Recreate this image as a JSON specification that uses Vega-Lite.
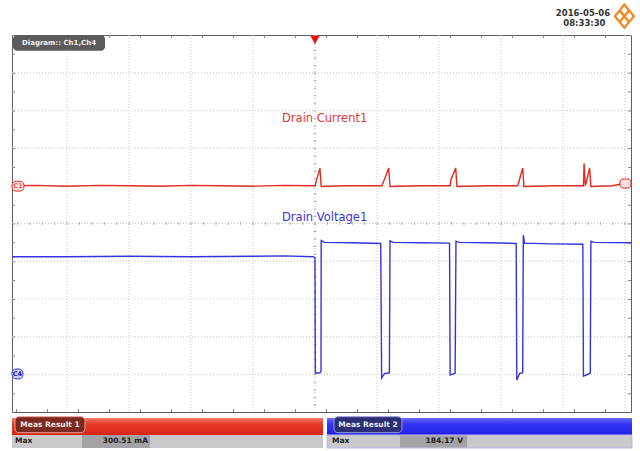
{
  "$schema": "https://vega.github.io/schema/vega-lite/v6.json",
  "width": 619,
  "height": 377,
  "autosize": "none",
  "padding": {"left": 12, "top": 35, "right": 9, "bottom": 39},
  "background": "white",
  "config": {
    "view": {"stroke": "#5e5e5e", "strokeWidth": 1},
    "text": {"font": "DejaVu Sans"}
  },
  "layer": [
    {
      "data": {"values": [{"g": -4}, {"g": -3}, {"g": -2}, {"g": -1}, {"g": 0}, {"g": 1}, {"g": 2}, {"g": 3}, {"g": 4}, {"g": 5}]},
      "mark": {"type": "rule", "color": "#c6c6c6", "strokeWidth": 1, "strokeDash": [1, 2]},
      "encoding": {
        "x": {"field": "g", "type": "quantitative", "scale": {"domain": [-4.887, 5.097], "nice": false, "zero": false}, "axis": null}
      }
    },
    {
      "data": {"values": [{"g": -4}, {"g": -3}, {"g": -2}, {"g": -1}, {"g": 0}, {"g": 1}, {"g": 2}, {"g": 3}, {"g": 4}]},
      "mark": {"type": "rule", "color": "#c6c6c6", "strokeWidth": 1, "strokeDash": [1, 2]},
      "encoding": {
        "y": {"field": "g", "type": "quantitative", "scale": {"domain": [-5, 5], "nice": false, "zero": false}, "axis": null}
      }
    },
    {
      "data": {"values": [{}]},
      "mark": {"type": "rule", "color": "#b0b0b0", "strokeWidth": 3, "strokeDash": [1, 11.4], "strokeDashOffset": 7},
      "encoding": {
        "y": {"datum": 0, "type": "quantitative", "scale": {"domain": [-5, 5], "nice": false, "zero": false}, "axis": null}
      }
    },
    {
      "data": {"values": [{}]},
      "mark": {"type": "rule", "color": "#b0b0b0", "strokeWidth": 3, "strokeDash": [1, 6.54], "strokeDashOffset": 0},
      "encoding": {
        "x": {"datum": 0, "type": "quantitative", "scale": {"domain": [-4.887, 5.097], "nice": false, "zero": false}, "axis": null}
      }
    },
    {
      "data": {"values": [{"e": -4.96}, {"e": 4.96}]},
      "mark": {"type": "rule", "color": "#8a8a8a", "strokeWidth": 3, "strokeDash": [1, 30], "strokeDashOffset": 6},
      "encoding": {
        "y": {"field": "e", "type": "quantitative", "scale": {"domain": [-5, 5], "nice": false, "zero": false}, "axis": null}
      }
    },
    {
      "data": {"values": [{"e": -4.863}, {"e": 5.073}]},
      "mark": {"type": "rule", "color": "#8a8a8a", "strokeWidth": 3, "strokeDash": [1, 17.85], "strokeDashOffset": 0},
      "encoding": {
        "x": {"field": "e", "type": "quantitative", "scale": {"domain": [-4.887, 5.097], "nice": false, "zero": false}, "axis": null}
      }
    },
    {
      "data": {"values": [
        {"ch": "I", "i": 0, "t": -4.88, "v": 1.0},
        {"ch": "I", "i": 1, "t": -4.5, "v": 1.01},
        {"ch": "I", "i": 2, "t": -4.0, "v": 0.99},
        {"ch": "I", "i": 3, "t": -3.5, "v": 1.01},
        {"ch": "I", "i": 4, "t": -3.0, "v": 1.0},
        {"ch": "I", "i": 5, "t": -2.5, "v": 0.99},
        {"ch": "I", "i": 6, "t": -2.0, "v": 1.01},
        {"ch": "I", "i": 7, "t": -1.5, "v": 1.0},
        {"ch": "I", "i": 8, "t": -1.0, "v": 0.99},
        {"ch": "I", "i": 9, "t": -0.5, "v": 1.01},
        {"ch": "I", "i": 10, "t": 0.0, "v": 1.0},
        {"ch": "I", "i": 11, "t": 0.08, "v": 1.47},
        {"ch": "I", "i": 12, "t": 0.1, "v": 0.98},
        {"ch": "I", "i": 13, "t": 0.5, "v": 1.0},
        {"ch": "I", "i": 14, "t": 1.08, "v": 1.0},
        {"ch": "I", "i": 15, "t": 1.19, "v": 1.47},
        {"ch": "I", "i": 16, "t": 1.21, "v": 0.98},
        {"ch": "I", "i": 17, "t": 1.7, "v": 1.0},
        {"ch": "I", "i": 18, "t": 2.18, "v": 1.0},
        {"ch": "I", "i": 19, "t": 2.19, "v": 1.15},
        {"ch": "I", "i": 20, "t": 2.27, "v": 1.47},
        {"ch": "I", "i": 21, "t": 2.29, "v": 0.98},
        {"ch": "I", "i": 22, "t": 2.8, "v": 1.0},
        {"ch": "I", "i": 23, "t": 3.27, "v": 1.0},
        {"ch": "I", "i": 24, "t": 3.35, "v": 1.47},
        {"ch": "I", "i": 25, "t": 3.37, "v": 0.98},
        {"ch": "I", "i": 26, "t": 3.9, "v": 1.0},
        {"ch": "I", "i": 27, "t": 4.33, "v": 1.0},
        {"ch": "I", "i": 28, "t": 4.34, "v": 1.6},
        {"ch": "I", "i": 29, "t": 4.36, "v": 1.03},
        {"ch": "I", "i": 30, "t": 4.37, "v": 1.05},
        {"ch": "I", "i": 31, "t": 4.43, "v": 1.47},
        {"ch": "I", "i": 32, "t": 4.45, "v": 0.98},
        {"ch": "I", "i": 33, "t": 4.8, "v": 1.0},
        {"ch": "I", "i": 34, "t": 4.92, "v": 1.04},
        {"ch": "V", "i": 0, "t": -4.88, "v": -0.88},
        {"ch": "V", "i": 1, "t": -4.0, "v": -0.88},
        {"ch": "V", "i": 2, "t": -3.0, "v": -0.87},
        {"ch": "V", "i": 3, "t": -2.0, "v": -0.88},
        {"ch": "V", "i": 4, "t": -1.0, "v": -0.87},
        {"ch": "V", "i": 5, "t": -0.5, "v": -0.86},
        {"ch": "V", "i": 6, "t": -0.03, "v": -0.88},
        {"ch": "V", "i": 7, "t": 0.0, "v": -0.9},
        {"ch": "V", "i": 8, "t": 0.005, "v": -3.97},
        {"ch": "V", "i": 9, "t": 0.08, "v": -3.96},
        {"ch": "V", "i": 10, "t": 0.097, "v": -3.92},
        {"ch": "V", "i": 11, "t": 0.1, "v": -0.45},
        {"ch": "V", "i": 12, "t": 0.15, "v": -0.5},
        {"ch": "V", "i": 13, "t": 0.6, "v": -0.51},
        {"ch": "V", "i": 14, "t": 1.06, "v": -0.53},
        {"ch": "V", "i": 15, "t": 1.075, "v": -4.1},
        {"ch": "V", "i": 16, "t": 1.12, "v": -3.98},
        {"ch": "V", "i": 17, "t": 1.2, "v": -3.96},
        {"ch": "V", "i": 18, "t": 1.21, "v": -0.46},
        {"ch": "V", "i": 19, "t": 1.26, "v": -0.5},
        {"ch": "V", "i": 20, "t": 1.7, "v": -0.51},
        {"ch": "V", "i": 21, "t": 2.17, "v": -0.52},
        {"ch": "V", "i": 22, "t": 2.18, "v": -4.02},
        {"ch": "V", "i": 23, "t": 2.26, "v": -3.97},
        {"ch": "V", "i": 24, "t": 2.274, "v": -0.47},
        {"ch": "V", "i": 25, "t": 2.32, "v": -0.5},
        {"ch": "V", "i": 26, "t": 2.8, "v": -0.51},
        {"ch": "V", "i": 27, "t": 3.245, "v": -0.53},
        {"ch": "V", "i": 28, "t": 3.255, "v": -4.15},
        {"ch": "V", "i": 29, "t": 3.3, "v": -3.98},
        {"ch": "V", "i": 30, "t": 3.35, "v": -3.96},
        {"ch": "V", "i": 31, "t": 3.36, "v": -0.31},
        {"ch": "V", "i": 32, "t": 3.38, "v": -0.52},
        {"ch": "V", "i": 33, "t": 3.8, "v": -0.54},
        {"ch": "V", "i": 34, "t": 4.32, "v": -0.55},
        {"ch": "V", "i": 35, "t": 4.33, "v": -4.05},
        {"ch": "V", "i": 36, "t": 4.44, "v": -3.97},
        {"ch": "V", "i": 37, "t": 4.45, "v": -0.47},
        {"ch": "V", "i": 38, "t": 4.5, "v": -0.5},
        {"ch": "V", "i": 39, "t": 5.097, "v": -0.51}
      ]},
      "mark": {"type": "line", "strokeWidth": 1.4, "interpolate": "linear"},
      "encoding": {
        "x": {"field": "t", "type": "quantitative", "scale": {"domain": [-4.887, 5.097], "nice": false, "zero": false}, "axis": null},
        "y": {"field": "v", "type": "quantitative", "scale": {"domain": [-5, 5], "nice": false, "zero": false}, "axis": null},
        "color": {"field": "ch", "type": "nominal", "scale": {"domain": ["I", "V"], "range": ["#e02a22", "#3434dc"]}, "legend": null},
        "order": {"field": "i", "type": "quantitative"}
      }
    },
    {
      "data": {"values": [{}]},
      "mark": {"type": "text", "text": "Drain Current1", "fontSize": 11.5, "color": "#e03a32", "align": "left", "baseline": "middle"},
      "encoding": {
        "x": {"datum": -0.532, "type": "quantitative", "scale": {"domain": [-4.887, 5.097], "nice": false, "zero": false}, "axis": null},
        "y": {"datum": 2.764, "type": "quantitative", "scale": {"domain": [-5, 5], "nice": false, "zero": false}, "axis": null}
      }
    },
    {
      "data": {"values": [{}]},
      "mark": {"type": "text", "text": "Drain Voltage1", "fontSize": 11.5, "color": "#3636d8", "align": "left", "baseline": "middle"},
      "encoding": {
        "x": {"datum": -0.532, "type": "quantitative", "scale": {"domain": [-4.887, 5.097], "nice": false, "zero": false}, "axis": null},
        "y": {"datum": 0.159, "type": "quantitative", "scale": {"domain": [-5, 5], "nice": false, "zero": false}, "axis": null}
      }
    },
    {
      "data": {"values": [{}]},
      "mark": {"type": "point", "shape": "triangle-down", "size": 90, "filled": true, "color": "#ee1111", "opacity": 1},
      "encoding": {
        "x": {"datum": 0, "type": "quantitative", "scale": {"domain": [-4.887, 5.097], "nice": false, "zero": false}, "axis": null},
        "y": {"datum": 4.87, "type": "quantitative", "scale": {"domain": [-5, 5], "nice": false, "zero": false}, "axis": null}
      }
    },
    {
      "data": {"values": [{}]},
      "mark": {"type": "rect", "fill": "#5b5b5b", "cornerRadius": 4},
      "encoding": {
        "x": {"datum": -4.871, "type": "quantitative", "scale": {"domain": [-4.887, 5.097], "nice": false, "zero": false}, "axis": null},
        "x2": {"datum": -3.387},
        "y": {"datum": 5.0, "type": "quantitative", "scale": {"domain": [-5, 5], "nice": false, "zero": false}, "axis": null},
        "y2": {"datum": 4.58}
      }
    },
    {
      "data": {"values": [{}]},
      "mark": {"type": "text", "text": "Diagram:: Ch1,Ch4", "fontSize": 7, "fontWeight": "bold", "color": "#f2f2f2", "align": "center", "baseline": "middle"},
      "encoding": {
        "x": {"datum": -4.129, "type": "quantitative", "scale": {"domain": [-4.887, 5.097], "nice": false, "zero": false}, "axis": null},
        "y": {"datum": 4.79, "type": "quantitative", "scale": {"domain": [-5, 5], "nice": false, "zero": false}, "axis": null}
      }
    },
    {
      "data": {"values": [{}]},
      "mark": {"type": "rect", "fill": "#fbe0dc", "stroke": "#e02a22", "strokeWidth": 1, "cornerRadius": 4},
      "encoding": {
        "x": {"datum": -4.887, "type": "quantitative", "scale": {"domain": [-4.887, 5.097], "nice": false, "zero": false}, "axis": null},
        "x2": {"datum": -4.694},
        "y": {"datum": 1.12, "type": "quantitative", "scale": {"domain": [-5, 5], "nice": false, "zero": false}, "axis": null},
        "y2": {"datum": 0.86}
      }
    },
    {
      "data": {"values": [{}]},
      "mark": {"type": "text", "text": "C1", "fontSize": 6.5, "fontWeight": "bold", "color": "#e0605a", "align": "center", "baseline": "middle"},
      "encoding": {
        "x": {"datum": -4.79, "type": "quantitative", "scale": {"domain": [-4.887, 5.097], "nice": false, "zero": false}, "axis": null},
        "y": {"datum": 0.99, "type": "quantitative", "scale": {"domain": [-5, 5], "nice": false, "zero": false}, "axis": null}
      }
    },
    {
      "data": {"values": [{}]},
      "mark": {"type": "rect", "fill": "#cfcff5", "stroke": "#3434dc", "strokeWidth": 1, "cornerRadius": 4},
      "encoding": {
        "x": {"datum": -4.887, "type": "quantitative", "scale": {"domain": [-4.887, 5.097], "nice": false, "zero": false}, "axis": null},
        "x2": {"datum": -4.71},
        "y": {"datum": -3.86, "type": "quantitative", "scale": {"domain": [-5, 5], "nice": false, "zero": false}, "axis": null},
        "y2": {"datum": -4.12}
      }
    },
    {
      "data": {"values": [{}]},
      "mark": {"type": "text", "text": "C4", "fontSize": 6.5, "fontWeight": "bold", "color": "#22228a", "align": "center", "baseline": "middle"},
      "encoding": {
        "x": {"datum": -4.8, "type": "quantitative", "scale": {"domain": [-4.887, 5.097], "nice": false, "zero": false}, "axis": null},
        "y": {"datum": -3.99, "type": "quantitative", "scale": {"domain": [-5, 5], "nice": false, "zero": false}, "axis": null}
      }
    },
    {
      "data": {"values": [{}]},
      "mark": {"type": "rect", "fill": "#fbe0dc", "stroke": "#e02a22", "strokeWidth": 1, "cornerRadius": 3},
      "encoding": {
        "x": {"datum": 4.92, "type": "quantitative", "scale": {"domain": [-4.887, 5.097], "nice": false, "zero": false}, "axis": null},
        "x2": {"datum": 5.097},
        "y": {"datum": 1.18, "type": "quantitative", "scale": {"domain": [-5, 5], "nice": false, "zero": false}, "axis": null},
        "y2": {"datum": 0.94}
      }
    },
    {
      "data": {"values": [{}]},
      "mark": {"type": "text", "text": "2016-05-06", "fontSize": 8.5, "fontWeight": "bold", "color": "#333333", "align": "center", "baseline": "middle"},
      "encoding": {
        "x": {"datum": 4.323, "type": "quantitative", "scale": {"domain": [-4.887, 5.097], "nice": false, "zero": false}, "axis": null},
        "y": {"datum": 5.576, "type": "quantitative", "scale": {"domain": [-5, 5], "nice": false, "zero": false}, "axis": null}
      }
    },
    {
      "data": {"values": [{}]},
      "mark": {"type": "text", "text": "08:33:30", "fontSize": 8.5, "fontWeight": "bold", "color": "#333333", "align": "center", "baseline": "middle"},
      "encoding": {
        "x": {"datum": 4.345, "type": "quantitative", "scale": {"domain": [-4.887, 5.097], "nice": false, "zero": false}, "axis": null},
        "y": {"datum": 5.326, "type": "quantitative", "scale": {"domain": [-5, 5], "nice": false, "zero": false}, "axis": null}
      }
    },
    {
      "data": {"values": [{}]},
      "mark": {"type": "point", "shape": "M0,-1.1L0.9,0L0,1.1L-0.9,0Z M-0.45,-0.55L0.45,0.55 M0.45,-0.55L-0.45,0.55", "size": 440, "filled": false, "stroke": "#f08a2a", "strokeWidth": 2.4, "fill": "white", "opacity": 1},
      "encoding": {
        "x": {"datum": 4.99, "type": "quantitative", "scale": {"domain": [-4.887, 5.097], "nice": false, "zero": false}, "axis": null},
        "y": {"datum": 5.5, "type": "quantitative", "scale": {"domain": [-5, 5], "nice": false, "zero": false}, "axis": null}
      }
    },
    {
      "data": {"values": [{}]},
      "mark": {"type": "rect", "fill": {"gradient": "linear", "x1": 0, "y1": 0, "x2": 0, "y2": 1, "stops": [{"offset": 0, "color": "#f47a68"}, {"offset": 0.35, "color": "#e83a2a"}, {"offset": 1, "color": "#d8241a"}]}},
      "encoding": {
        "x": {"datum": -4.887, "type": "quantitative", "scale": {"domain": [-4.887, 5.097], "nice": false, "zero": false}, "axis": null},
        "x2": {"datum": 0.129},
        "y": {"datum": -5.159, "type": "quantitative", "scale": {"domain": [-5, 5], "nice": false, "zero": false}, "axis": null},
        "y2": {"datum": -5.61}
      }
    },
    {
      "data": {"values": [{}]},
      "mark": {"type": "rect", "fill": "#7b2a22", "stroke": "#eaa090", "strokeWidth": 1, "cornerRadius": 4},
      "encoding": {
        "x": {"datum": -4.839, "type": "quantitative", "scale": {"domain": [-4.887, 5.097], "nice": false, "zero": false}, "axis": null},
        "x2": {"datum": -3.71},
        "y": {"datum": -5.125, "type": "quantitative", "scale": {"domain": [-5, 5], "nice": false, "zero": false}, "axis": null},
        "y2": {"datum": -5.549}
      }
    },
    {
      "data": {"values": [{}]},
      "mark": {"type": "text", "text": "Meas Result 1", "fontSize": 7.5, "fontWeight": "bold", "color": "#f5e6e2", "align": "center", "baseline": "middle"},
      "encoding": {
        "x": {"datum": -4.274, "type": "quantitative", "scale": {"domain": [-4.887, 5.097], "nice": false, "zero": false}, "axis": null},
        "y": {"datum": -5.345, "type": "quantitative", "scale": {"domain": [-5, 5], "nice": false, "zero": false}, "axis": null}
      }
    },
    {
      "data": {"values": [{}]},
      "mark": {"type": "rect", "fill": "#c9c9cb"},
      "encoding": {
        "x": {"datum": -4.887, "type": "quantitative", "scale": {"domain": [-4.887, 5.097], "nice": false, "zero": false}, "axis": null},
        "x2": {"datum": 0.129},
        "y": {"datum": -5.61, "type": "quantitative", "scale": {"domain": [-5, 5], "nice": false, "zero": false}, "axis": null},
        "y2": {"datum": -5.955}
      }
    },
    {
      "data": {"values": [{}]},
      "mark": {"type": "rect", "fill": "#a3a3a5"},
      "encoding": {
        "x": {"datum": -3.758, "type": "quantitative", "scale": {"domain": [-4.887, 5.097], "nice": false, "zero": false}, "axis": null},
        "x2": {"datum": -2.661},
        "y": {"datum": -5.61, "type": "quantitative", "scale": {"domain": [-5, 5], "nice": false, "zero": false}, "axis": null},
        "y2": {"datum": -5.955}
      }
    },
    {
      "data": {"values": [{}]},
      "mark": {"type": "text", "text": "Max", "fontSize": 7.5, "fontWeight": "bold", "color": "#222222", "align": "left", "baseline": "middle"},
      "encoding": {
        "x": {"datum": -4.839, "type": "quantitative", "scale": {"domain": [-4.887, 5.097], "nice": false, "zero": false}, "axis": null},
        "y": {"datum": -5.782, "type": "quantitative", "scale": {"domain": [-5, 5], "nice": false, "zero": false}, "axis": null}
      }
    },
    {
      "data": {"values": [{}]},
      "mark": {"type": "text", "text": "300.51 mA", "fontSize": 7.5, "fontWeight": "bold", "color": "#222222", "align": "right", "baseline": "middle"},
      "encoding": {
        "x": {"datum": -2.694, "type": "quantitative", "scale": {"domain": [-4.887, 5.097], "nice": false, "zero": false}, "axis": null},
        "y": {"datum": -5.782, "type": "quantitative", "scale": {"domain": [-5, 5], "nice": false, "zero": false}, "axis": null}
      }
    },
    {
      "data": {"values": [{}]},
      "mark": {"type": "rect", "fill": {"gradient": "linear", "x1": 0, "y1": 0, "x2": 0, "y2": 1, "stops": [{"offset": 0, "color": "#6a6aff"}, {"offset": 0.35, "color": "#3434f8"}, {"offset": 1, "color": "#1f1fe6"}]}},
      "encoding": {
        "x": {"datum": 0.194, "type": "quantitative", "scale": {"domain": [-4.887, 5.097], "nice": false, "zero": false}, "axis": null},
        "x2": {"datum": 5.113},
        "y": {"datum": -5.159, "type": "quantitative", "scale": {"domain": [-5, 5], "nice": false, "zero": false}, "axis": null},
        "y2": {"datum": -5.61}
      }
    },
    {
      "data": {"values": [{}]},
      "mark": {"type": "rect", "fill": "#2b2e72", "stroke": "#9a9ad8", "strokeWidth": 1, "cornerRadius": 4},
      "encoding": {
        "x": {"datum": 0.306, "type": "quantitative", "scale": {"domain": [-4.887, 5.097], "nice": false, "zero": false}, "axis": null},
        "x2": {"datum": 1.403},
        "y": {"datum": -5.125, "type": "quantitative", "scale": {"domain": [-5, 5], "nice": false, "zero": false}, "axis": null},
        "y2": {"datum": -5.549}
      }
    },
    {
      "data": {"values": [{}]},
      "mark": {"type": "text", "text": "Meas Result 2", "fontSize": 7.5, "fontWeight": "bold", "color": "#e8e8f8", "align": "center", "baseline": "middle"},
      "encoding": {
        "x": {"datum": 0.855, "type": "quantitative", "scale": {"domain": [-4.887, 5.097], "nice": false, "zero": false}, "axis": null},
        "y": {"datum": -5.345, "type": "quantitative", "scale": {"domain": [-5, 5], "nice": false, "zero": false}, "axis": null}
      }
    },
    {
      "data": {"values": [{}]},
      "mark": {"type": "rect", "fill": "#c9c9cb", "stroke": "#b8b8f0", "strokeWidth": 1},
      "encoding": {
        "x": {"datum": 0.194, "type": "quantitative", "scale": {"domain": [-4.887, 5.097], "nice": false, "zero": false}, "axis": null},
        "x2": {"datum": 5.113},
        "y": {"datum": -5.61, "type": "quantitative", "scale": {"domain": [-5, 5], "nice": false, "zero": false}, "axis": null},
        "y2": {"datum": -5.955}
      }
    },
    {
      "data": {"values": [{}]},
      "mark": {"type": "rect", "fill": "#a3a3a5"},
      "encoding": {
        "x": {"datum": 1.371, "type": "quantitative", "scale": {"domain": [-4.887, 5.097], "nice": false, "zero": false}, "axis": null},
        "x2": {"datum": 2.452},
        "y": {"datum": -5.625, "type": "quantitative", "scale": {"domain": [-5, 5], "nice": false, "zero": false}, "axis": null},
        "y2": {"datum": -5.94}
      }
    },
    {
      "data": {"values": [{}]},
      "mark": {"type": "text", "text": "Max", "fontSize": 7.5, "fontWeight": "bold", "color": "#222222", "align": "left", "baseline": "middle"},
      "encoding": {
        "x": {"datum": 0.274, "type": "quantitative", "scale": {"domain": [-4.887, 5.097], "nice": false, "zero": false}, "axis": null},
        "y": {"datum": -5.782, "type": "quantitative", "scale": {"domain": [-5, 5], "nice": false, "zero": false}, "axis": null}
      }
    },
    {
      "data": {"values": [{}]},
      "mark": {"type": "text", "text": "184.17 V", "fontSize": 7.5, "fontWeight": "bold", "color": "#222222", "align": "right", "baseline": "middle"},
      "encoding": {
        "x": {"datum": 2.387, "type": "quantitative", "scale": {"domain": [-4.887, 5.097], "nice": false, "zero": false}, "axis": null},
        "y": {"datum": -5.782, "type": "quantitative", "scale": {"domain": [-5, 5], "nice": false, "zero": false}, "axis": null}
      }
    }
  ]
}
